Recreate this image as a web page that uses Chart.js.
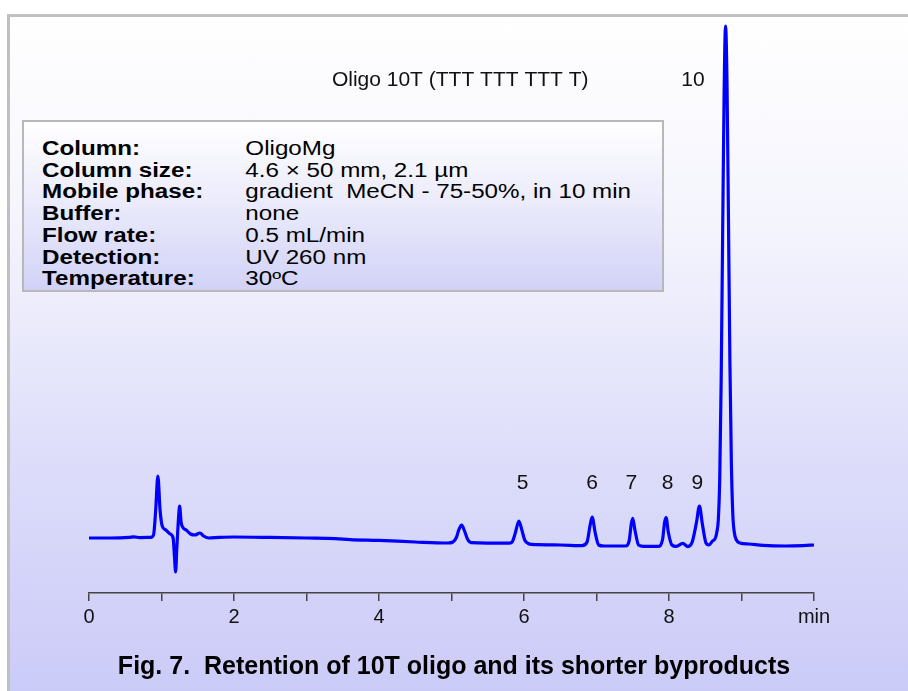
<!DOCTYPE html>
<html>
<head>
<meta charset="utf-8">
<script src="https://cdn.jsdelivr.net/npm/chart.js@4.4.1/dist/chart.umd.min.js"></script>
<style>
  html, body { margin: 0; padding: 0; background: #fff; }
  #wrap { position: relative; width: 908px; height: 691px; overflow: hidden; font-family: "Liberation Sans", Arial, sans-serif; }
  #frame { position: absolute; left: 7px; top: 14px; width: 920px; height: 700px;
           border-left: 3px solid #c0c0c0; border-top: 3px solid #c0c0c0;
           background: linear-gradient(to bottom, #ffffff 0%, #f4f4fd 30%, #dcdcfa 65%, #c9c9f8 100%); }
  #chart { position: absolute; left: 0; top: 0; }
  #info { position: absolute; left: 22px; top: 120px; width: 638px; height: 168px;
          border: 2px solid #b8b8b8;
          background: linear-gradient(to bottom, #ffffff 0%, #ececfc 45%, #d2d2f8 100%); }
  #info div { position: absolute; left: 18px; font-size: 19.5px; line-height: 22px; color: #000; white-space: nowrap;
              transform: scaleX(1.24); transform-origin: left center; }
  #info b { display: inline-block; width: 164px; }
  #title { position: absolute; left: 0; width: 908px; top: 651px; text-align: center;
           font-size: 25px; font-weight: bold; color: #000; }
</style>
</head>
<body>
<div id="wrap">
  <div id="frame"></div>
  <canvas id="chart" width="908" height="691"></canvas>
  <div id="info"></div>
  <div id="title">Fig. 7.&nbsp; Retention of 10T oligo and its shorter byproducts</div>
</div>
<script>
// retention time (min) and detector signal (mAU)
var tiempo = [0.00, 0.30, 0.55, 0.62, 0.70, 0.85, 0.89, 0.92, 0.95, 0.98, 1.01, 1.06, 1.12, 1.16, 1.18, 1.195, 1.21, 1.235, 1.25, 1.27,
  1.30, 1.34, 1.40, 1.46, 1.53, 1.58, 1.65, 1.80, 2.00, 2.50, 3.00, 3.40, 3.60, 4.00, 4.50, 4.95,
  5.02, 5.07, 5.10, 5.14, 5.18, 5.22, 5.27, 5.80, 5.84, 5.88, 5.93, 5.97, 6.01, 6.06, 6.10,
  6.50, 6.80, 6.87, 6.91, 6.94, 6.98, 7.03, 7.10, 7.40, 7.45, 7.48,
  7.50, 7.53, 7.58, 7.65, 7.85, 7.91, 7.94, 7.96, 7.99, 8.04, 8.10, 8.19, 8.26, 8.32, 8.38, 8.42, 8.46, 8.51, 8.55, 8.60,
  8.64, 8.66, 8.68, 8.70, 8.72, 8.74, 8.76, 8.78, 8.80, 8.82, 8.84, 8.86, 8.88, 8.90, 8.93, 8.98, 9.10, 9.30, 9.60, 9.85, 10.00];
var senal = [0, 0, 0.3, 0.6, 0.2, 0.3, 1.5, 14, 31, 14, 6, 4, 2, 0, -10, -17, -6, 10, 16, 8,
  5, 4, 2, 1.5, 2.5, 1, 0, 0.3, 0.5, 0.3, 0, -0.3, -0.8, -1.2, -2, -2.5,
  -2, 0.5, 4, 6.5, 3.5, -0.5, -2.3, -2.6, -1.8, 2.5, 8.5, 4, -1, -2.8, -3.2,
  -3.5, -3.8, -2, 6, 10.5, 3, -3.5, -4, -4, -1.5, 7,
  9.8, 4, -3.5, -4.2, -4.2, -1, 8, 10.2, 3, -3.5, -4.2, -2.7, -4.3, -2, 8, 16, 7, -2.5, -3.5, -1.5,
  0, 3, 9, 30, 80, 152, 222, 256, 228, 160, 88, 38, 12, 3, -1, -2.5, -3, -3.7, -4, -3.8, -3.5];

// peak numbers and where their labels sit
var picos = ['5', '6', '7', '8', '9', '10'];
var picoTiempo = [5.98, 6.94, 7.48, 7.98, 8.39, 8.33];
var picoNivel = [27.5, 27.5, 27.5, 27.5, 27.5, 229];
var muestra = 'Oligo 10T (TTT TTT TTT T)';
var muestraTiempo = 5.12;

// method conditions
var condiciones = ['Column:', 'Column size:', 'Mobile phase:', 'Buffer:', 'Flow rate:', 'Detection:', 'Temperature:'];
var valores = ['OligoMg', '4.6 \u00d7 50 mm, 2.1 \u00b5m', 'gradient\u00a0 MeCN - 75-50%, in 10 min', 'none', '0.5 mL/min', 'UV 260 nm', '30\u00baC'];

var info = document.getElementById('info');
condiciones.forEach(function (c, i) {
  var d = document.createElement('div');
  d.style.top = (15 + i * 21.7) + 'px';
  var b = document.createElement('b');
  b.textContent = c;
  d.appendChild(b);
  d.appendChild(document.createTextNode(valores[i]));
  info.appendChild(d);
});

var puntos = tiempo.map(function (t, i) { return { x: t, y: senal[i] }; });

var etiquetas = {
  id: 'etiquetas',
  afterDatasetsDraw: function (chart) {
    var ctx = chart.ctx, x = chart.scales.x, y = chart.scales.y;
    ctx.save();
    ctx.fillStyle = '#111';
    ctx.font = '21px "Liberation Sans", Arial, sans-serif';
    ctx.textAlign = 'center';
    ctx.textBaseline = 'middle';
    picos.forEach(function (p, i) {
      ctx.fillText(p, x.getPixelForValue(picoTiempo[i]), y.getPixelForValue(picoNivel[i]));
    });
    ctx.fillText(muestra, x.getPixelForValue(muestraTiempo), y.getPixelForValue(229));
    ctx.restore();
  }
};

var grafico = new Chart(document.getElementById('chart').getContext('2d'), {
  type: 'line',
  data: {
    datasets: [{
      data: puntos,
      borderColor: '#0000ff',
      borderWidth: 3.2,
      pointRadius: 0,
      fill: false,
      cubicInterpolationMode: 'monotone'
    }]
  },
  options: {
    responsive: false,
    animation: false,
    layout: { padding: { left: 89, right: 94, top: 15, bottom: 58 } },
    plugins: { legend: { display: false }, tooltip: { enabled: false } },
    scales: {
      x: {
        type: 'linear',
        min: 0,
        max: 10,
        afterFit: function (s) { s.height = 40; },
        border: { display: true, color: '#444', width: 1.5 },
        grid: { drawOnChartArea: false, drawTicks: true, tickLength: 8, color: '#444', lineWidth: 1.5 },
        ticks: {
          stepSize: 1,
          autoSkip: false,
          maxRotation: 0,
          padding: 4,
          color: '#111',
          font: { family: '"Liberation Sans", Arial, sans-serif', size: 20 },
          callback: function (v) { return v === 10 ? 'min' : (v % 2 === 0 ? v : ''); }
        }
      },
      y: { display: false, min: -27.5, max: 261.5 }
    }
  },
  plugins: [etiquetas]
});
</script>
</body>
</html>
